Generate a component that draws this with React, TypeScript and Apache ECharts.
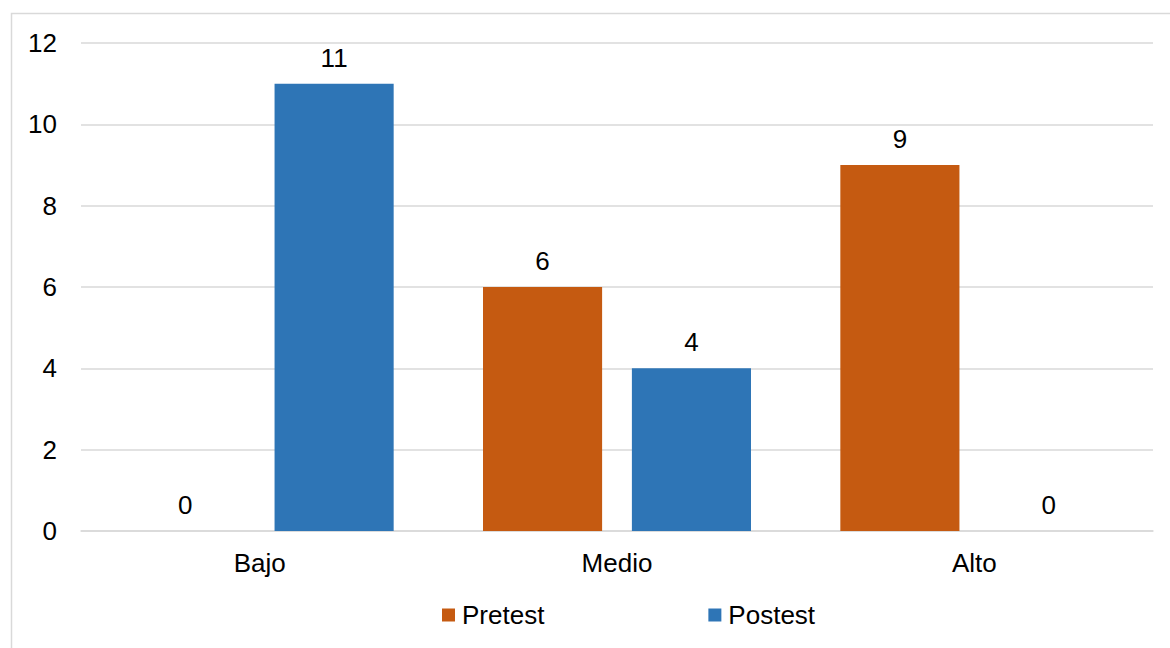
import React, { useEffect, useRef } from "react";
import * as echarts from "echarts";

const categories = ["Bajo", "Medio", "Alto"];
const pretest = [0, 6, 9];
const postest = [11, 4, 0];
const yTicks = { min: 0, max: 12, interval: 2 };

const FONT = "'Liberation Sans', Arial, sans-serif";
const ORANGE = "#C55A11";
const BLUE = "#2E75B6";
const GRID = "#D9D9D9";
const FS = 26;

export default function App() {
  const ref = useRef<HTMLDivElement>(null);

  useEffect(() => {
    if (!ref.current) return;
    const chart = echarts.init(ref.current, undefined, { renderer: "svg" });
    const label = {
      show: true,
      position: "top" as const,
      distance: 13,
      color: "#000",
      fontSize: FS,
      fontFamily: FONT,
    };
    chart.setOption({
      animation: false,
      backgroundColor: "#fff",
      textStyle: { fontFamily: FONT },
      graphic: [
        {
          type: "rect",
          shape: { x: 11.5, y: 13.5, width: 1200, height: 700 },
          style: { fill: "none", stroke: GRID, lineWidth: 1.5 },
          silent: true,
        },
      ],
      grid: { left: 81, right: 17, top: 43, bottom: 117, containLabel: false },
      legend: {
        data: ["Pretest", "Postest"],
        left: 442,
        top: 602,
        padding: 0,
        icon: "rect",
        itemWidth: 13,
        itemHeight: 13,
        itemGap: 164,
        textStyle: { fontSize: FS, color: "#000", fontFamily: FONT, padding: [0, 0, 0, 2] },
      },
      xAxis: {
        type: "category",
        data: categories,
        axisLine: { show: true, lineStyle: { color: GRID, width: 1.5 } },
        axisTick: { show: false },
        axisLabel: { fontSize: FS, color: "#000", margin: 19, fontFamily: FONT },
      },
      yAxis: {
        type: "value",
        min: yTicks.min,
        max: yTicks.max,
        interval: yTicks.interval,
        axisLine: { show: false },
        axisTick: { show: false },
        splitLine: { lineStyle: { color: GRID, width: 1.5 } },
        axisLabel: { fontSize: FS, color: "#000", margin: 24, fontFamily: FONT },
      },
      series: [
        {
          name: "Pretest",
          type: "bar",
          data: pretest,
          itemStyle: { color: ORANGE },
          barGap: "25%",
          barCategoryGap: "25%",
          label,
        },
        {
          name: "Postest",
          type: "bar",
          data: postest,
          itemStyle: { color: BLUE },
          barGap: "25%",
          barCategoryGap: "25%",
          label,
        },
      ],
    });
    return () => chart.dispose();
  }, []);

  return (
    <div
      ref={ref}
      style={{ position: "fixed", left: 0, top: 0, width: 1170, height: 648 }}
    />
  );
}
